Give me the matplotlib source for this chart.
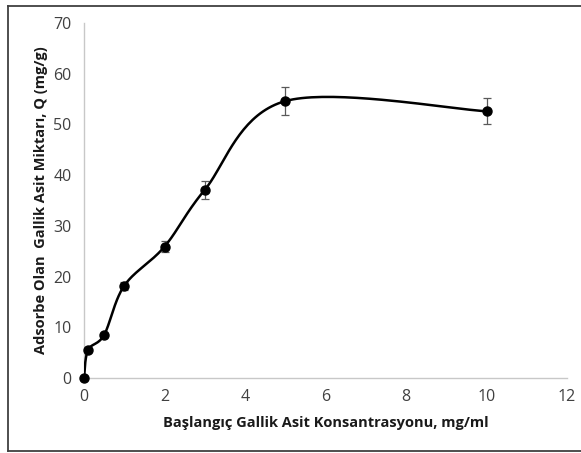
import numpy as np
import matplotlib.pyplot as plt
from matplotlib.lines import Line2D

# data
conc = [0, 0.1, 0.5, 1, 2, 3, 5, 10]
q = [0, 5.5, 8.5, 18.2, 25.9, 37.1, 54.6, 52.6]
q_err = [0, 0, 0, 0.8, 1.1, 1.8, 2.7, 2.6]

xticks = [0, 2, 4, 6, 8, 10, 12]
yticks = [0, 10, 20, 30, 40, 50, 60, 70]

plt.rcParams['font.family'] = ['Open Sans', 'DejaVu Sans']


def smooth(x, y, n=40):
    # excel-like smoothed line: bezier segments, control points from neighbours
    x = np.asarray(x, float)
    y = np.asarray(y, float)
    px = np.concatenate([[x[0]], x, [x[-1]]])
    py = np.concatenate([[y[0]], y, [y[-1]]])
    xs, ys = [], []
    t = np.linspace(0, 1, n)
    for i in range(len(x) - 1):
        p0 = np.array([px[i + 1], py[i + 1]])
        p3 = np.array([px[i + 2], py[i + 2]])
        p1 = p0 + (np.array([px[i + 2], py[i + 2]]) - np.array([px[i], py[i]])) / 6
        p2 = p3 - (np.array([px[i + 3], py[i + 3]]) - np.array([px[i + 1], py[i + 1]])) / 6
        b = ((1 - t) ** 3)[:, None] * p0 + (3 * (1 - t) ** 2 * t)[:, None] * p1 \
            + (3 * (1 - t) * t ** 2)[:, None] * p2 + (t ** 3)[:, None] * p3
        xs.extend(b[:, 0])
        ys.extend(b[:, 1])
    return xs, ys


fig = plt.figure(figsize=(5.81, 4.53), dpi=100)
ax = fig.add_axes([0.1446, 0.1656, 0.8313, 0.7836])

sx, sy = smooth(conc, q)
ax.plot(sx, sy, color='black', lw=1.8, zorder=3)
ax.errorbar(conc, q, yerr=q_err, fmt='none', ecolor='#595959', elinewidth=0.9,
            capsize=3, capthick=0.9, zorder=2)
ax.plot(conc, q, 'o', color='black', ms=6.5, zorder=4, clip_on=False)

ax.set_xlim(0, 12)
ax.set_ylim(0, 70)
ax.set_xticks(xticks)
ax.set_yticks(yticks)
ax.tick_params(length=0, labelsize=11.5, labelcolor='#404040')
ax.tick_params(axis='x', pad=8)
ax.tick_params(axis='y', pad=9)
for s in ['top', 'right']:
    ax.spines[s].set_visible(False)
for s in ['left', 'bottom']:
    ax.spines[s].set_color('#c8c8c8')
    ax.spines[s].set_linewidth(1)

ax.set_xlabel('Başlangıç Gallik Asit Konsantrasyonu, mg/ml', fontsize=10.5,
              fontweight='bold', color='#1a1a1a', labelpad=8)
ax.set_ylabel('Adsorbe Olan  Gallik Asit Miktarı, Q (mg/g)', fontsize=10.5,
              fontweight='bold', color='#1a1a1a', labelpad=4)

# outer chart border
W, H = 581, 453
for xy in [((8 / W, 1.01), (1 - 6 / H, 1 - 6 / H)),
           ((8 / W, 1.01), (1 - 451 / H, 1 - 451 / H)),
           ((8 / W, 8 / W), (1 - 6 / H, 1 - 451 / H))]:
    fig.add_artist(Line2D(xy[0], xy[1], color='#404040', lw=1.3,
                          transform=fig.transFigure))

fig.savefig('out.png', dpi=100)
